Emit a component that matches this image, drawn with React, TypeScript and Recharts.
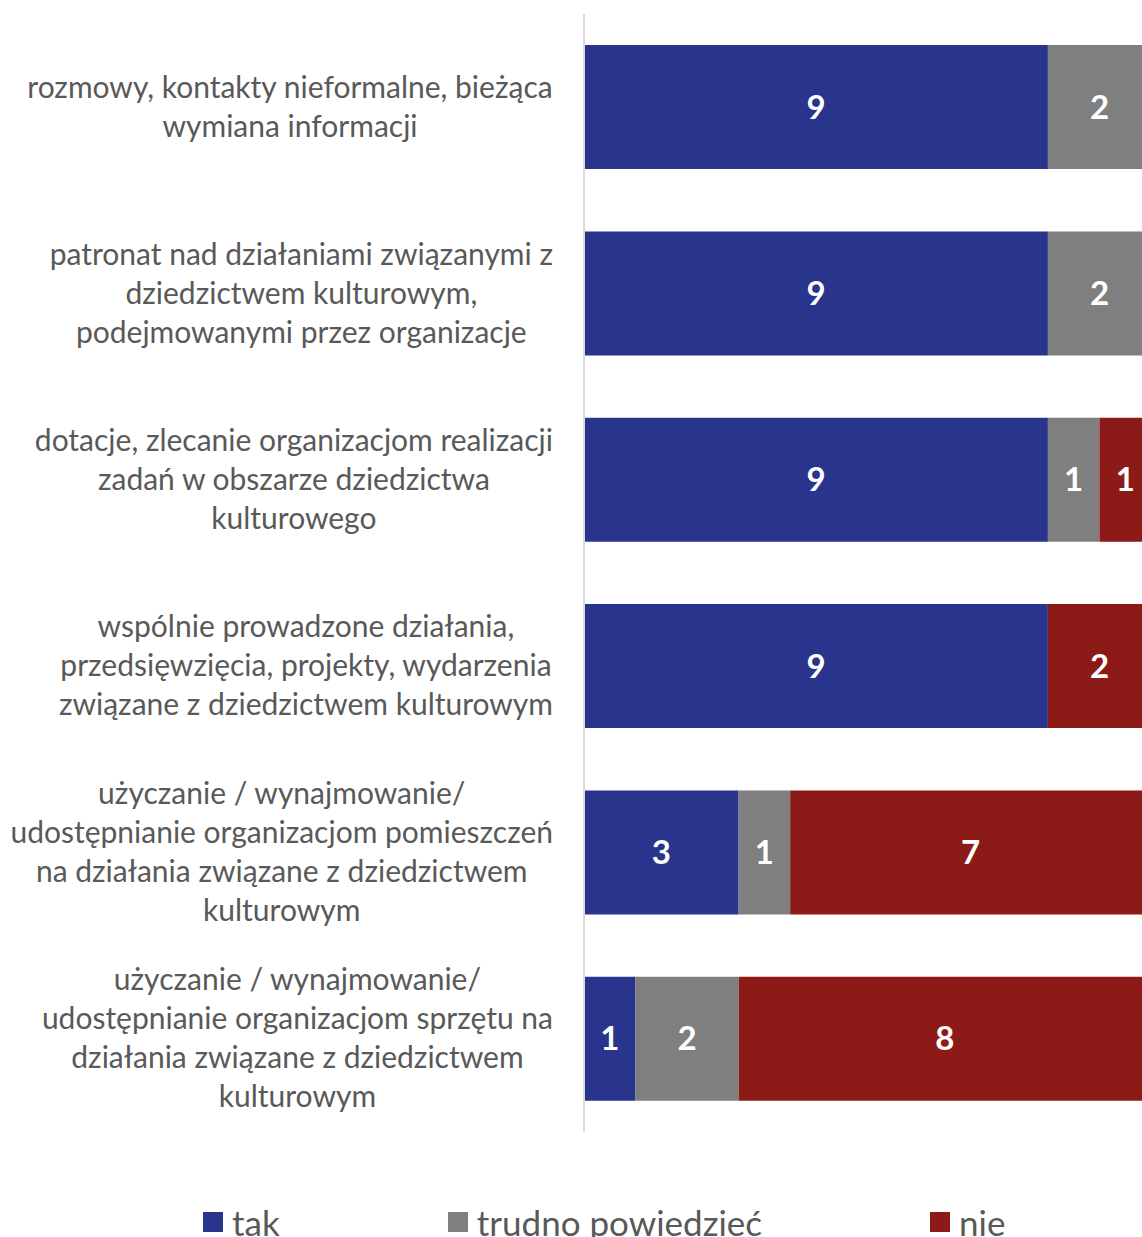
import { BarChart, Bar, XAxis, YAxis, LabelList } from "recharts";

const categories = [
  "rozmowy, kontakty nieformalne, bieżąca\nwymiana informacji",
  "patronat nad działaniami związanymi z\ndziedzictwem kulturowym,\npodejmowanymi przez organizacje",
  "dotacje, zlecanie organizacjom realizacji\nzadań w obszarze dziedzictwa\nkulturowego",
  "wspólnie prowadzone działania,\nprzedsięwzięcia, projekty, wydarzenia\nzwiązane z dziedzictwem kulturowym",
  "użyczanie / wynajmowanie/\nudostępnianie organizacjom pomieszczeń\nna działania związane z dziedzictwem\nkulturowym",
  "użyczanie / wynajmowanie/\nudostępnianie organizacjom sprzętu na\ndziałania związane z dziedzictwem\nkulturowym",
];

const tak = [9, 9, 9, 9, 3, 1];
const trudno = [2, 2, 1, 0, 1, 2];
const nie = [0, 0, 1, 2, 7, 8];

const seriesNames = ["tak", "trudno powiedzieć", "nie"];
const colors = ["#29348D", "#7F7F7F", "#8C1A17"];

const data = categories.map((c, i) => ({
  name: c,
  tak: tak[i],
  trudno: trudno[i],
  nie: nie[i],
}));

const FONT = "Lato, 'Open Sans', sans-serif";
const LABEL_SIZE = 30;

let ctx: CanvasRenderingContext2D | null = null;
function measure(s: string) {
  if (!ctx) ctx = document.createElement("canvas").getContext("2d");
  if (!ctx) return s.length * 14;
  ctx.font = `${LABEL_SIZE}px ${FONT}`;
  return ctx.measureText(s).width;
}

// excel-style wrapped label: lines centred in a block whose right edge hugs the axis
function CategoryTick(props: any) {
  const { x, y, payload } = props;
  const lines: string[] = String(payload.value).split("\n");
  const maxW = Math.max(...lines.map(measure));
  const cx = x - 31 - maxW / 2;
  const lh = 39;
  const y0 = y - 2 - ((lines.length - 1) * lh) / 2;
  return (
    <text textAnchor="middle" fill="#595959" fontSize={LABEL_SIZE} fontFamily={FONT}>
      {lines.map((l, i) => (
        <tspan key={i} x={cx} y={y0 + i * lh} dominantBaseline="central">
          {l}
        </tspan>
      ))}
    </text>
  );
}

const hideZero = (v: any) => (v ? v : "");

export default function App() {
  const keys = ["tak", "trudno", "nie"];
  return (
    <div style={{ position: "absolute", left: 0, top: 0, width: 1142, height: 1237, overflow: "hidden", background: "#fff" }}>
      <BarChart
        width={1160}
        height={1237}
        data={data}
        layout="vertical"
        barCategoryGap="16.7%"
        margin={{ top: 14, right: 9, left: 0, bottom: 105 }}
      >
        <XAxis type="number" domain={[0, 11]} hide />
        <YAxis
          type="category"
          dataKey="name"
          width={584}
          tickLine={false}
          tickSize={0}
          tickMargin={0}
          axisLine={{ stroke: "#D9D9D9", strokeWidth: 2 }}
          tick={<CategoryTick />}
          interval={0}
        />
        {keys.map((k, i) => (
          <Bar key={k} dataKey={k} stackId="a" fill={colors[i]} isAnimationActive={false}>
            <LabelList
              dataKey={k}
              position="center"
              formatter={hideZero}
              fill="#ffffff"
              fontSize={33}
              fontWeight={700}
              fontFamily={FONT}
            />
          </Bar>
        ))}
      </BarChart>
      <div
        style={{
          position: "absolute",
          top: 1205,
          left: 203,
          height: 34,
          display: "flex",
          alignItems: "center",
          gap: 168,
          fontFamily: FONT,
          fontSize: 35,
          color: "#595959",
          whiteSpace: "nowrap",
        }}
      >
        {seriesNames.map((n, i) => (
          <div key={n} style={{ display: "flex", alignItems: "center" }}>
            <span style={{ width: 20, height: 20, background: colors[i], marginRight: 9, display: "inline-block" }} />
            <span>{n}</span>
          </div>
        ))}
      </div>
    </div>
  );
}
